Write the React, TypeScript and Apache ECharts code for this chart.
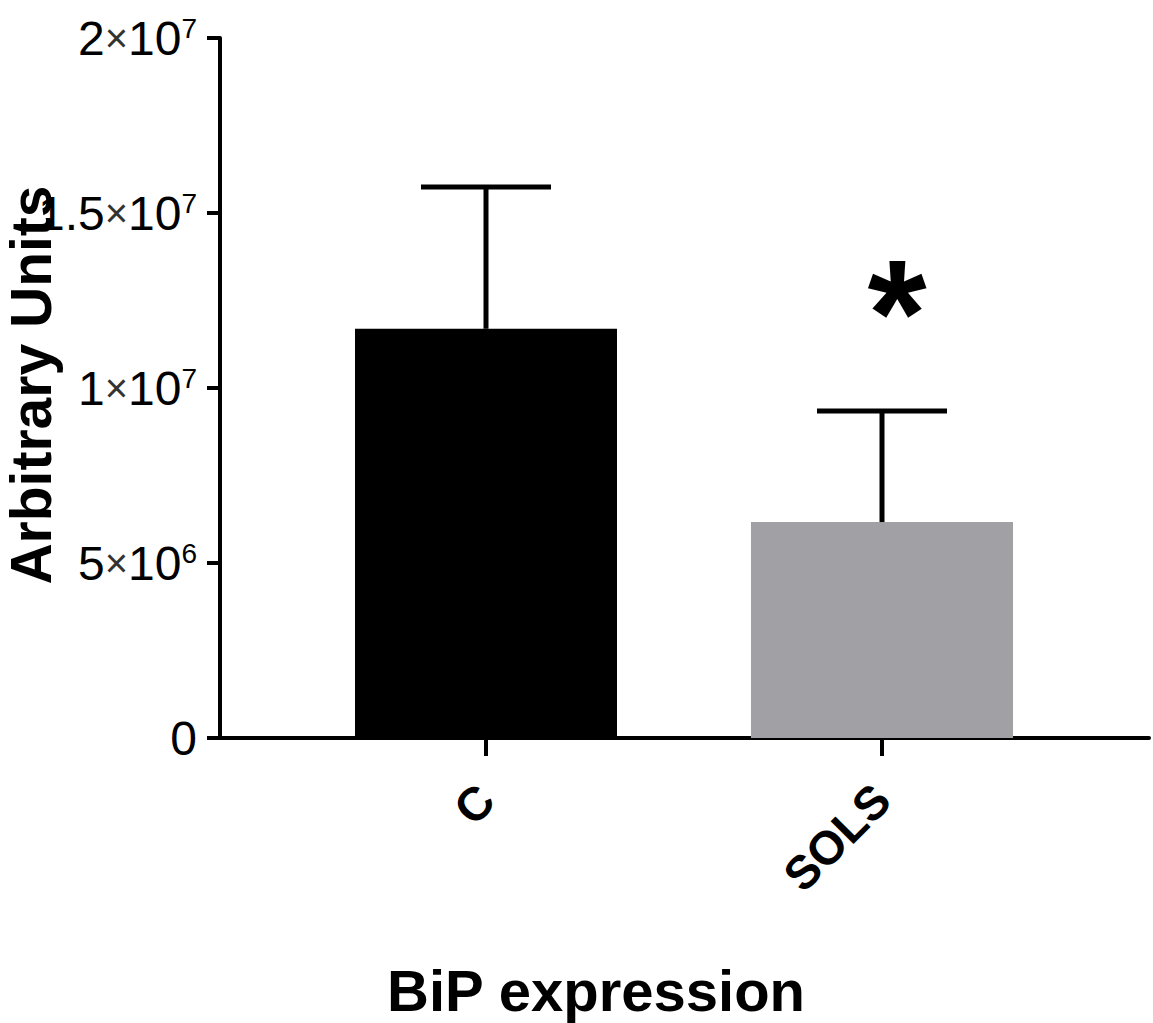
import React, { useEffect, useRef } from 'react';
import * as echarts from 'echarts';

const categories = ['C', 'SOLS'];
const positions = [1, 2];
const means = [11.69e6, 6.17e6];
const sems = [4.05e6, 3.17e6];
const barColors = ['#000000', '#a0a0a5'];
const yTicks = [0, 5e6, 1e7, 1.5e7, 2e7];
const significance = [{ pos: 2, value: 1.214e7, text: '*' }];
const yTitle = 'Arbitrary Units';
const xTitle = 'BiP expression';

export default function App() {
  const ref = useRef<HTMLDivElement>(null);
  useEffect(() => {
    const chart = echarts.init(ref.current!, null, { renderer: 'svg' });
    const font = 'Liberation Sans, Arial, Helvetica, sans-serif';
    const fmt = (v: number) => {
      if (v === 0) return '{d|0}';
      const exp = Math.floor(Math.log10(v) + 1e-9);
      const m = +(v / Math.pow(10, exp)).toFixed(2);
      return `{d|${m}}{x|×}{d|10}{s|${exp}}`;
    };
    const gridLeft = 220;
    const gridTop = 38;
    const gridW = 929;
    const gridH = 700;
    const pxPerUnit = 396;
    const firstCenter = 486;
    const xMin = positions[0] - (firstCenter - gridLeft) / pxPerUnit;
    const xMax = xMin + gridW / pxPerUnit;

    chart.setOption({
      animation: false,
      backgroundColor: '#ffffff',
      textStyle: { fontFamily: font },
      grid: {
        left: gridLeft,
        top: gridTop,
        width: gridW,
        height: gridH,
        containLabel: false,
        outerBoundsMode: 'none',
      },
      xAxis: {
        type: 'value',
        min: xMin,
        max: xMax,
        splitLine: { show: false },
        axisLine: { show: true, lineStyle: { color: '#000', width: 4 } },
        axisTick: { show: true, customValues: positions, length: 18, lineStyle: { color: '#000', width: 4 } },
        axisLabel: {
          show: true,
          customValues: positions,
          rotate: 45,
          margin: 54,
          color: '#000',
          fontFamily: font,
          fontWeight: 'bold',
          fontSize: 47,
          formatter: (v: number) => {
            const i = positions.indexOf(Math.round(v));
            return i >= 0 ? categories[i] : '';
          },
        },
      },
      yAxis: {
        type: 'value',
        min: yTicks[0],
        max: yTicks[yTicks.length - 1],
        interval: yTicks[1] - yTicks[0],
        splitLine: { show: false },
        axisLine: { show: true, lineStyle: { color: '#000', width: 4 } },
        axisTick: { show: true, length: 13, lineStyle: { color: '#000', width: 4 } },
        axisLabel: {
          margin: 23,
          formatter: fmt,
          rich: {
            d: { fontSize: 48, lineHeight: 48, color: '#000', fontFamily: font },
            x: { fontSize: 40, lineHeight: 48, color: '#333', fontFamily: font },
            s: { fontSize: 28, lineHeight: 26, verticalAlign: 'top', color: '#000', fontFamily: font },
          },
        },
      },
      series: [
        {
          type: 'bar',
          barWidth: 262,
          data: positions.map((p, i) => ({ value: [p, means[i]], itemStyle: { color: barColors[i] } })),
          z: 2,
        },
        {
          type: 'custom',
          z: 3,
          data: positions.map((p, i) => [p, means[i], means[i] + sems[i]]),
          renderItem: (params: any, api: any) => {
            const x = api.value(0);
            const base = api.coord([x, api.value(1)]);
            const top = api.coord([x, api.value(2)]);
            const st = { stroke: '#000', lineWidth: 5 };
            return {
              type: 'group',
              children: [
                { type: 'line', shape: { x1: base[0], y1: base[1], x2: top[0], y2: top[1] }, style: st },
                { type: 'line', shape: { x1: top[0] - 65, y1: top[1], x2: top[0] + 65, y2: top[1] }, style: st },
              ],
            };
          },
        },
        {
          type: 'scatter',
          z: 4,
          symbolSize: 1,
          itemStyle: { color: 'rgba(0,0,0,0)' },
          data: significance.map((s) => ({ value: [s.pos, s.value], name: s.text })),
          label: {
            show: true,
            position: 'inside',
            offset: [15, 0],
            formatter: (p: any) => p.name,
            fontSize: 152,
            fontWeight: 'bold',
            color: '#000',
            opacity: 1,
            textBorderWidth: 0,
            fontFamily: font,
          },
        },
      ],
      graphic: [
        {
          type: 'text',
          x: 31,
          y: 385,
          rotation: Math.PI / 2,
          style: {
            text: yTitle,
            fontSize: 57,
            lineHeight: 57,
            fontWeight: 'bold',
            fontFamily: font,
            fill: '#000',
            align: 'center',
            verticalAlign: 'middle',
          },
        },
        {
          type: 'text',
          x: 596,
          y: 990,
          style: {
            text: xTitle,
            fontSize: 58,
            fontWeight: 'bold',
            fontFamily: font,
            fill: '#000',
            align: 'center',
            verticalAlign: 'middle',
          },
        },
      ],
    });
    return () => chart.dispose();
  }, []);
  return <div ref={ref} style={{ position: 'fixed', left: 0, top: 0, width: 1153, height: 1023 }} />;
}
